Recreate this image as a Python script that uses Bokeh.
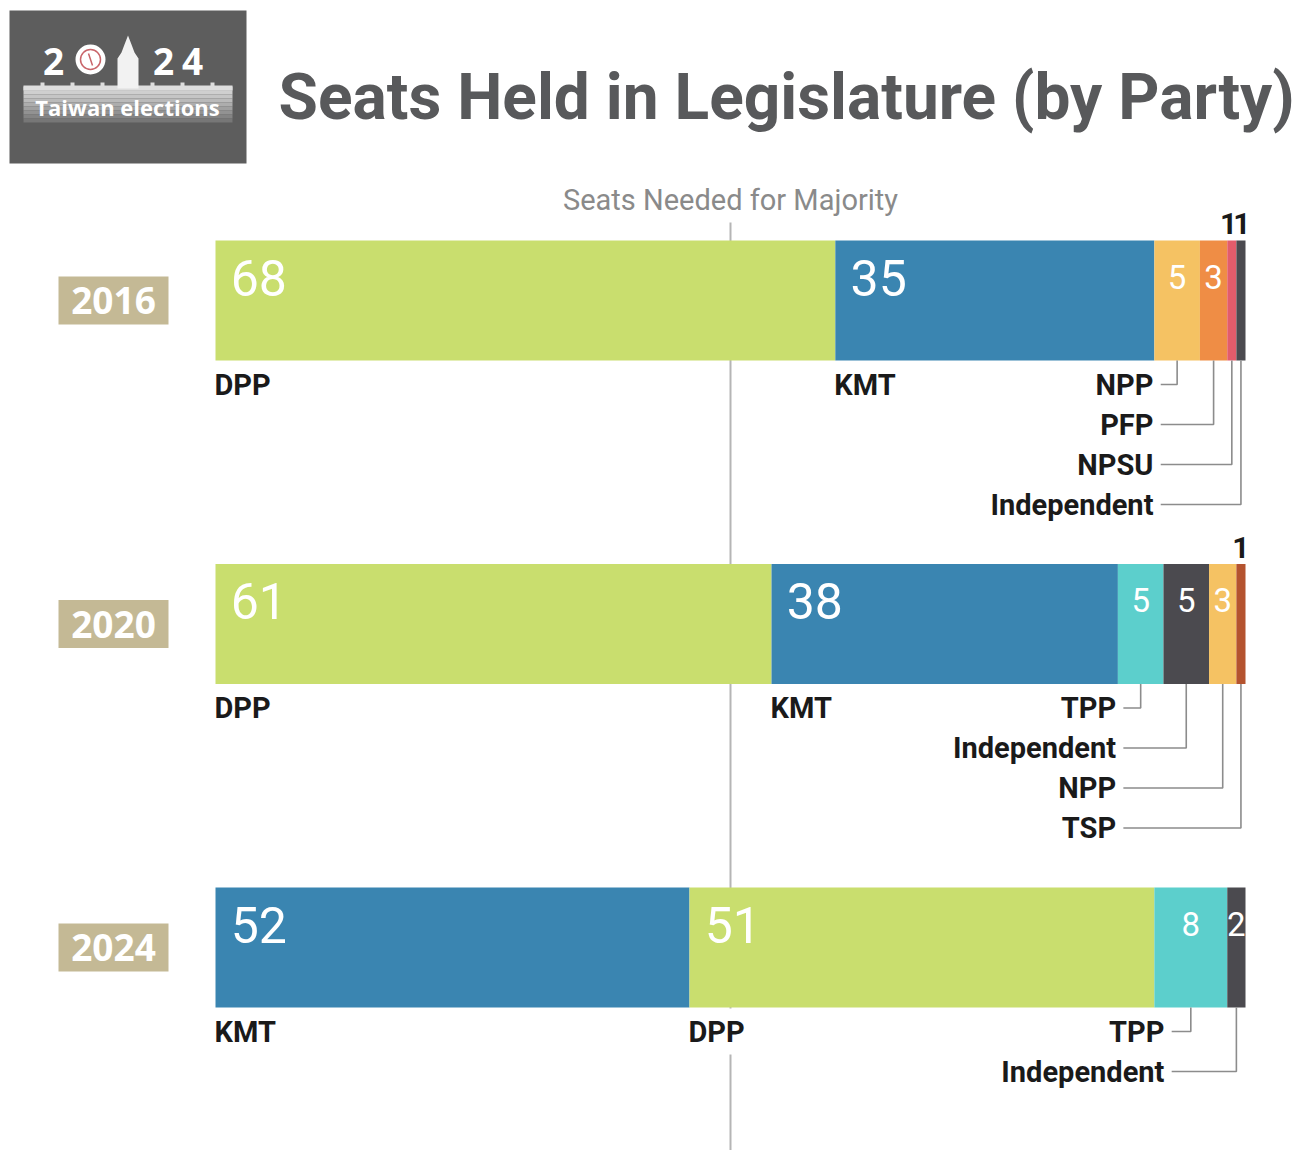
from bokeh.plotting import figure
from bokeh.models import Range1d, ColumnDataSource
from bokeh.embed import file_html
from bokeh.resources import INLINE
from bokeh.core.properties import value

# ---------------- data ----------------
years = ["2016", "2020", "2024"]
parties_2016 = ["DPP", "KMT", "NPP", "PFP", "NPSU", "Independent"]
seats_2016 = [68, 35, 5, 3, 1, 1]
parties_2020 = ["DPP", "KMT", "TPP", "Independent", "NPP", "TSP"]
seats_2020 = [61, 38, 5, 5, 3, 1]
parties_2024 = ["KMT", "DPP", "TPP", "Independent"]
seats_2024 = [52, 51, 8, 2]
total_seats = 113
majority_mark = total_seats / 2

party_colors = {
    "DPP": "#c9de6e", "KMT": "#3a85b1", "NPP": "#f5c263", "PFP": "#ef8d45",
    "NPSU": "#e35c6b", "Independent": "#4b4a4f", "TPP": "#5ccfcc", "TSP": "#b4532f",
}
chart_title = "Seats Held in Legislature (by Party)"
majority_label = "Seats Needed for Majority"
logo_chars = ["2", "2", "4"]
logo_text = "Taiwan elections"

rows_parties = [parties_2016, parties_2020, parties_2024]
rows_seats = [seats_2016, seats_2020, seats_2024]
callout_shift = [-0.1, -0.2, 1.1]

# ---------------- layout ----------------
W, H = 1300, 1150
BAR_L, BAR_R = 215, 1245
scale = (BAR_R - BAR_L) / total_seats
x_start = -BAR_L / scale
x_end = x_start + W / scale
ROW_TOP0, ROW_STEP, BAR_H = 240, 323.5, 120

NARROW = "Roboto"
BADGE = "Open Sans"

p = figure(width=W, height=H, x_range=Range1d(x_start, x_end), y_range=Range1d(H, 0),
           output_backend="svg", toolbar_location=None, min_border=0,
           x_axis_location=None, y_axis_location=None, outline_line_color=None,
           background_fill_color="white", border_fill_color="white")
p.extra_x_ranges = {"px": Range1d(0, W)}
p.xgrid.visible = False
p.ygrid.visible = False

# majority line (behind bars)
p.segment(x0=[majority_mark], y0=[222], x1=[majority_mark], y1=[H],
          line_color="#b5b5b5", line_width=2)
p.text(x=[majority_mark], y=[199], text=[majority_label], text_font=value(NARROW),
       text_font_size="29px", text_color="#8a8a8a", text_align="center", text_baseline="middle")

bar = dict(y=[], left=[], right=[], color=[])
big = dict(x=[], y=[], text=[])
small = dict(x=[], y=[], text=[])
above = dict(x=[], y=[], text=[])
main_lab = dict(x=[], y=[], text=[])
call_lab = dict(x=[], y=[], text=[])
lead = dict(xs=[], ys=[])
badge = dict(y=[], text=[])

for i, (yr, parts, sts) in enumerate(zip(years, rows_parties, rows_seats)):
    top = ROW_TOP0 + i * ROW_STEP
    bot = top + BAR_H
    cy = top + BAR_H / 2
    badge["y"].append(cy)
    badge["text"].append(yr)
    left = 0
    starts = []
    prev_one = False
    for party, s in zip(parts, sts):
        starts.append(left)
        bar["y"].append(cy); bar["left"].append(left); bar["right"].append(left + s)
        bar["color"].append(party_colors[party])
        c = left + s / 2
        if s >= 10:
            big["x"].append(left + 2.0); big["y"].append(top + 37); big["text"].append(str(s))
        elif s >= 2:
            small["x"].append(c); small["y"].append(top + 36); small["text"].append(str(s))
        else:
            if prev_one:
                above["x"][-1] -= 0.35
                c += 0.1
            above["x"].append(c); above["y"].append(top - 17); above["text"].append(str(s))
        prev_one = (s == 1)
        left += s
    anchor = starts[2] + callout_shift[i]
    for k, (party, s) in enumerate(zip(parts, sts)):
        if k < 2:
            main_lab["x"].append(starts[k]); main_lab["y"].append(bot + 24); main_lab["text"].append(party)
        else:
            ry = bot + 24 + (k - 2) * 40
            c = starts[k] + s / 2
            call_lab["x"].append(anchor); call_lab["y"].append(ry); call_lab["text"].append(party)
            lead["xs"].append([anchor + 0.8, c, c]); lead["ys"].append([ry, ry, bot])

p.hbar(y="y", left="left", right="right", height=BAR_H, fill_color="color", line_color=None,
       source=ColumnDataSource(bar))
p.multi_line(xs="xs", ys="ys", line_color="#8c8c8c", line_width=1.6, source=ColumnDataSource(lead))

p.text(x="x", y="y", text="text", source=ColumnDataSource(big), text_font=value(NARROW),
       text_font_size="50px", text_color="white", text_align="left", text_baseline="middle",
       x_offset=-3)
p.text(x="x", y="y", text="text", source=ColumnDataSource(small), text_font=value(NARROW),
       text_font_size="33px", text_color="white", text_align="center", text_baseline="middle")
p.text(x="x", y="y", text="text", source=ColumnDataSource(above), text_font=value(NARROW),
       text_font_size="30px", text_font_style="bold", text_color="#1a1a1a", text_align="center",
       text_baseline="middle")
p.text(x="x", y="y", text="text", source=ColumnDataSource(main_lab), text_font=value(NARROW),
       text_font_size="29px", text_font_style="bold", text_color="#1a1a1a", text_align="left",
       text_baseline="middle", background_fill_color="white", padding=6, x_offset=-7)
p.text(x="x", y="y", text="text", source=ColumnDataSource(call_lab), text_font=value(NARROW),
       text_font_size="29px", text_font_style="bold", text_color="#1a1a1a", text_align="right",
       text_baseline="middle")

# year badges
bsrc = ColumnDataSource(dict(x=[113] * len(badge["y"]), y=badge["y"], text=badge["text"]))
p.rect(x="x", y="y", width=110, height=48, fill_color="#c4b995", line_color=None,
       source=bsrc, x_range_name="px")
p.text(x="x", y="y", text="text", source=bsrc, x_range_name="px", text_font=value(BADGE),
       text_font_size="37px", text_font_style="bold", text_color="white", text_align="center",
       text_baseline="middle")

# title
p.text(x=[278], y=[97], text=[chart_title], x_range_name="px", text_font=value(NARROW),
       text_font_size="64px", text_font_style="bold", text_color="#58595b", text_align="left",
       text_baseline="middle")

# logo
p.quad(left=[9], right=[246], top=[10], bottom=[163], fill_color="#5d5d5d", line_color=None,
       x_range_name="px")
band_cols = ["#d8d8d8", "#cfcfcf", "#c5c5c5", "#bababa", "#adadad", "#a0a0a0", "#929292", "#848484", "#777777"]
nb = len(band_cols)
band_top = [86 + j * 4 for j in range(nb)]
p.quad(left=[23] * nb, right=[232] * nb, top=band_top, bottom=[t + 4 for t in band_top],
       fill_color=band_cols, line_color=None, x_range_name="px")
sky_x = [23, 23, 40, 40, 44, 44, 70, 70, 74, 74, 100, 100, 104, 104, 150, 150, 154, 154, 180, 180,
         184, 184, 210, 210, 214, 214, 232, 232]
sky_y = [90, 85, 85, 82, 82, 85, 85, 82, 82, 85, 85, 82, 82, 85, 85, 82, 82, 85, 85, 82,
         82, 85, 85, 82, 82, 85, 85, 90]
p.patch(x=sky_x, y=sky_y, fill_color="#dedede", line_color=None, x_range_name="px")
p.patch(x=[117, 117, 121, 124, 127.5, 131, 134, 138, 138],
        y=[88, 58, 52, 44, 35, 44, 52, 58, 88], fill_color="#f2f2f2", line_color=None,
        x_range_name="px")
p.scatter(x=[90], y=[59], size=30, fill_color="white", line_color=None, x_range_name="px")
p.scatter(x=[90], y=[59], size=20, fill_color=None, line_color="#c9656a", line_width=1.5,
          x_range_name="px")
p.segment(x0=[88], y0=[53], x1=[92], y1=[65], line_color="#c9656a", line_width=1.5, x_range_name="px")
p.text(x=[53, 163, 192], y=[61, 61, 61], text=logo_chars, x_range_name="px",
       text_font=value(BADGE), text_font_size="37px", text_font_style="bold", text_color="white",
       text_align="center", text_baseline="middle")
p.text(x=[127], y=[106], text=[logo_text], x_range_name="px", text_font=value(BADGE),
       text_font_size="22px", text_font_style="bold", text_color="white", text_align="center",
       text_baseline="middle")

open("out.html", "w").write(file_html(p, INLINE))
